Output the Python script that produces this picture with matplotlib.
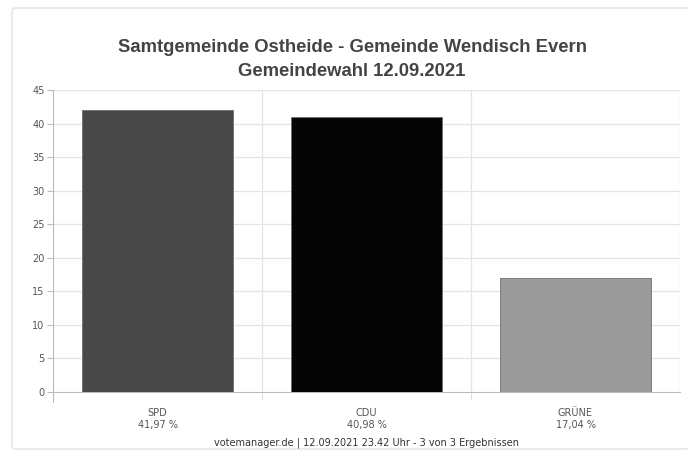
import matplotlib.pyplot as plt
from matplotlib.patches import FancyBboxPatch

parties = ['SPD', 'CDU', 'GRÜNE']
shares = [41.97, 40.98, 17.04]
share_labels = ['41,97 %', '40,98 %', '17,04 %']
colors = ['#484848', '#050505', '#9b9b9b']
yticks = [0, 5, 10, 15, 20, 25, 30, 35, 40, 45]

W, H = 688, 463
fig = plt.figure(figsize=(W / 100, H / 100), dpi=100)

# card frame
card = FancyBboxPatch((12 / W, 14 / H), (690 - 12) / W, (455 - 14) / H,
                      boxstyle='round,pad=0,rounding_size=0.006',
                      transform=fig.transFigure, facecolor='white',
                      edgecolor='#e6e6e6', linewidth=1.2, zorder=-5)
fig.patches.append(card)

ax = fig.add_axes([53 / W, 1 - 392 / H, (680 - 53) / W, (392 - 90) / H])
ax.set_facecolor('none')

x = list(range(len(parties)))
ax.bar(x, shares, width=0.72, color=colors, edgecolor='#6e6e6e', linewidth=0.6, zorder=3)

ax.set_xlim(-0.5, len(parties) - 0.5)
ax.set_ylim(0, 45)
ax.set_yticks(yticks)
ax.set_yticklabels([str(t) for t in yticks], fontsize=7, color='#555555')
ax.tick_params(axis='y', length=4, color='#bbbbbb', pad=2)

# grid lines
for t in yticks[1:]:
    ax.axhline(t, color='#e4e4e4', linewidth=0.9, zorder=1)
for b in [0.5, 1.5, 2.5]:
    ax.axvline(b, color='#e4e4e4', linewidth=0.9, zorder=1)

ax.set_xticks([0.5, 1.5])
ax.set_xticklabels([])
ax.tick_params(axis='x', length=6, color='#dddddd')

for s in ['top', 'right']:
    ax.spines[s].set_visible(False)
ax.spines['left'].set_color('#bbbbbb')
ax.spines['bottom'].set_color('#bbbbbb')
ax.spines['left'].set_bounds(-1.5, 45)

for i, (p, l) in enumerate(zip(parties, share_labels)):
    ax.text(i, -2.4, p + '\n' + l, ha='center', va='top', fontsize=7,
            color='#555555', linespacing=1.25)

fig.text(352 / W, 1 - 48 / H, 'Samtgemeinde Ostheide - Gemeinde Wendisch Evern',
         ha='center', va='center', fontsize=13.3, fontweight='bold',
         color='#444444', family='Liberation Sans')
fig.text(352 / W, 1 - 72 / H, 'Gemeindewahl 12.09.2021', ha='center', va='center',
         fontsize=13.3, fontweight='bold', color='#444444', family='Liberation Sans')
fig.text(367 / W, 1 - 443 / H,
         'votemanager.de | 12.09.2021 23.42 Uhr - 3 von 3 Ergebnissen',
         ha='center', va='center', fontsize=7, color='#333333')

fig.savefig('out.png', dpi=100)
